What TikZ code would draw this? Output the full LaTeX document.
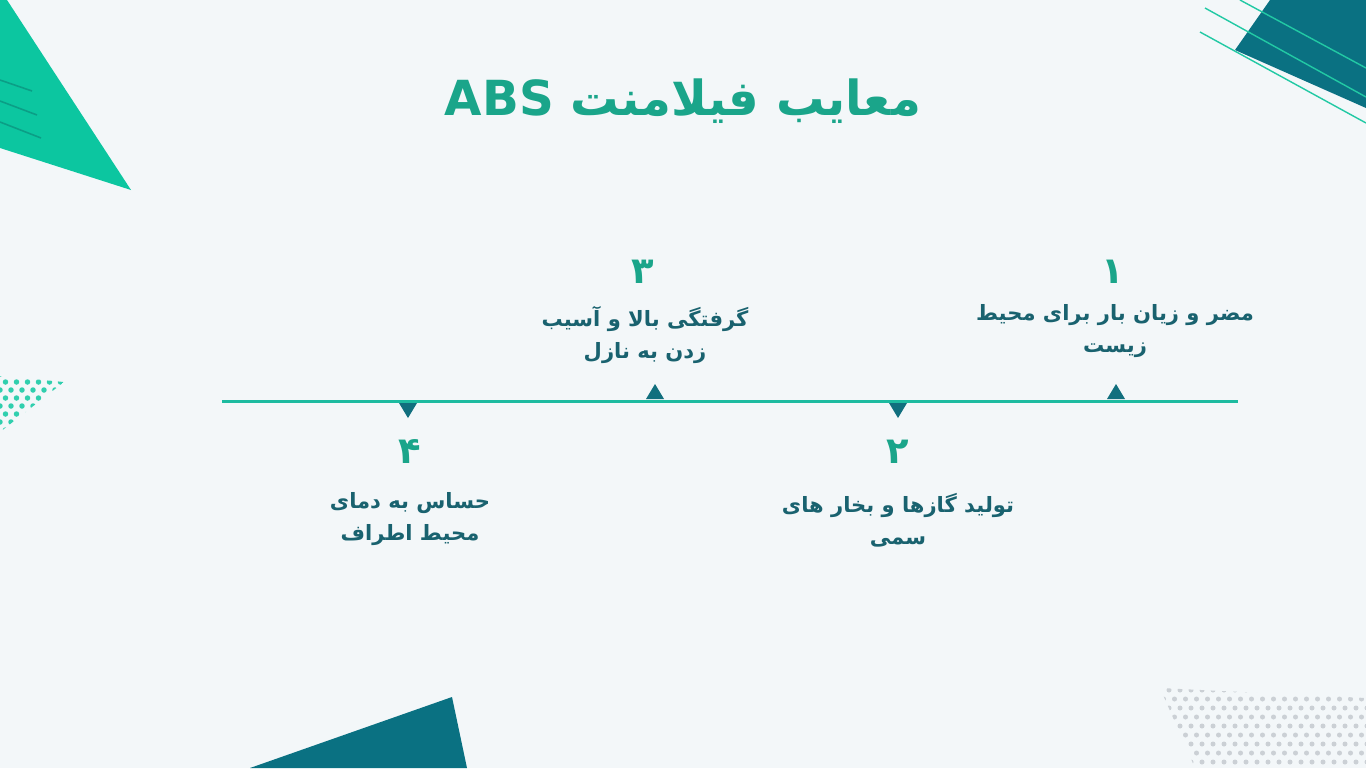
\documentclass[tikz,border=0pt]{standalone}
\usepackage{fontspec}
\TeXXeTstate=1
\newfontfamily\arabicfont[Script=Arabic]{DejaVu Sans}
\definecolor{bgcol}{HTML}{F3F7F9}
\definecolor{brightgreen}{HTML}{0CC6A0}
\definecolor{darkgreen}{HTML}{0B9E86}
\definecolor{deepteal}{HTML}{0A7182}
\definecolor{titlecol}{HTML}{1AA58A}
\definecolor{numcol}{HTML}{1AA58A}
\definecolor{labcol}{HTML}{19626F}
\definecolor{linecol}{HTML}{1DBBA0}
\definecolor{markcol}{HTML}{116F7E}
\definecolor{dotgray}{HTML}{CBD0D5}
\definecolor{stripecol}{HTML}{22C9A4}
\begin{document}
\begin{tikzpicture}[x=0.02cm, y=-0.02cm,
    numtext/.style={font=\arabicfont\bfseries\fontsize{21}{23}\selectfont, text=numcol, inner sep=0pt},
    labtext/.style={font=\arabicfont\bfseries\fontsize{12}{18}\selectfont, text=labcol, align=center, inner sep=0pt},
    upmark/.style={fill=markcol},
    downmark/.style={fill=markcol}]
    \fill[bgcol] (0,0) rectangle (1366,768);
    \useasboundingbox (0,0) rectangle (1366,768);

    % decorations
    \fill[brightgreen] (0,0) -- (7,0) -- (131,190) -- (0,148) -- cycle;
    \draw[darkgreen, line width=0.9pt] (0,80) -- (32,91) (0,101) -- (37,115) (0,122) -- (41,138);
    \fill[deepteal] (1270,0) -- (1366,0) -- (1366,108) -- (1235,50) -- cycle;
    \draw[stripecol, line width=0.8pt] (1240,0) -- (1366,68) (1205,8) -- (1366,97) (1200,32) -- (1366,123);
    \fill[deepteal] (250,768) -- (452,697) -- (467,768) -- cycle;
    \begin{scope}
        \clip (0,376) -- (64,382) -- (0,432) -- cycle;
        \foreach \i in {0,...,7} {
            \foreach \j in {0,...,7} {
                \fill[brightgreen!85] ({\i*11+mod(\j,2)*5.5},{374+\j*8}) circle [radius=0.055cm];
            }
        }
    \end{scope}
    \begin{scope}
        \clip (1160,688) -- (1366,698) -- (1366,768) -- (1195,768) -- cycle;
        \foreach \i in {0,...,19} {
            \foreach \j in {0,...,8} {
                \fill[dotgray] ({1158+\i*11+mod(\j,2)*5.5},{690+\j*9}) circle [radius=0.05cm];
            }
        }
    \end{scope}

    % title
    \node[font=\arabicfont\bfseries\fontsize{27.5}{32}\selectfont, text=titlecol] (title) at (683,101)
        {\beginR معایب فیلامنت \beginL ABS\endL\endR};

    % timeline
    \coordinate (tlstart) at (222,401);
    \coordinate (tlend) at (1238,401);
    \draw[linecol, line width=1.7pt] (tlstart) -- (tlend);

    \coordinate (m1) at (1116,399);
    \coordinate (m2) at (898,403);
    \coordinate (m3) at (655,399);
    \coordinate (m4) at (408,403);
    \fill[upmark] (m1) ++(-9,0) -- ++(18,0) -- ++(-9,-15) -- cycle;
    \fill[upmark] (m3) ++(-9,0) -- ++(18,0) -- ++(-9,-15) -- cycle;
    \fill[downmark] (m2) ++(-9,0) -- ++(18,0) -- ++(-9,15) -- cycle;
    \fill[downmark] (m4) ++(-9,0) -- ++(18,0) -- ++(-9,15) -- cycle;

    % items
    \node[numtext] (n1) at (1113,272) {۱};
    \node[labtext] (t1) at (1115,331) {\beginR مضر و زیان بار برای محیط\endR\\\beginR زیست\endR};
    \node[numtext] (n3) at (643,272) {۳};
    \node[labtext] (t3) at (645,335) {\beginR گرفتگی بالا و آسیب\endR\\\beginR زدن به نازل\endR};
    \node[numtext] (n2) at (898,452) {۲};
    \node[labtext] (t2) at (898,520) {\beginR تولید گازها و بخار های\endR\\\beginR سمی\endR};
    \node[numtext] (n4) at (410,452) {۴};
    \node[labtext] (t4) at (410,519) {\beginR حساس به دمای\endR\\\beginR محیط اطراف\endR};
\end{tikzpicture}
\end{document}
